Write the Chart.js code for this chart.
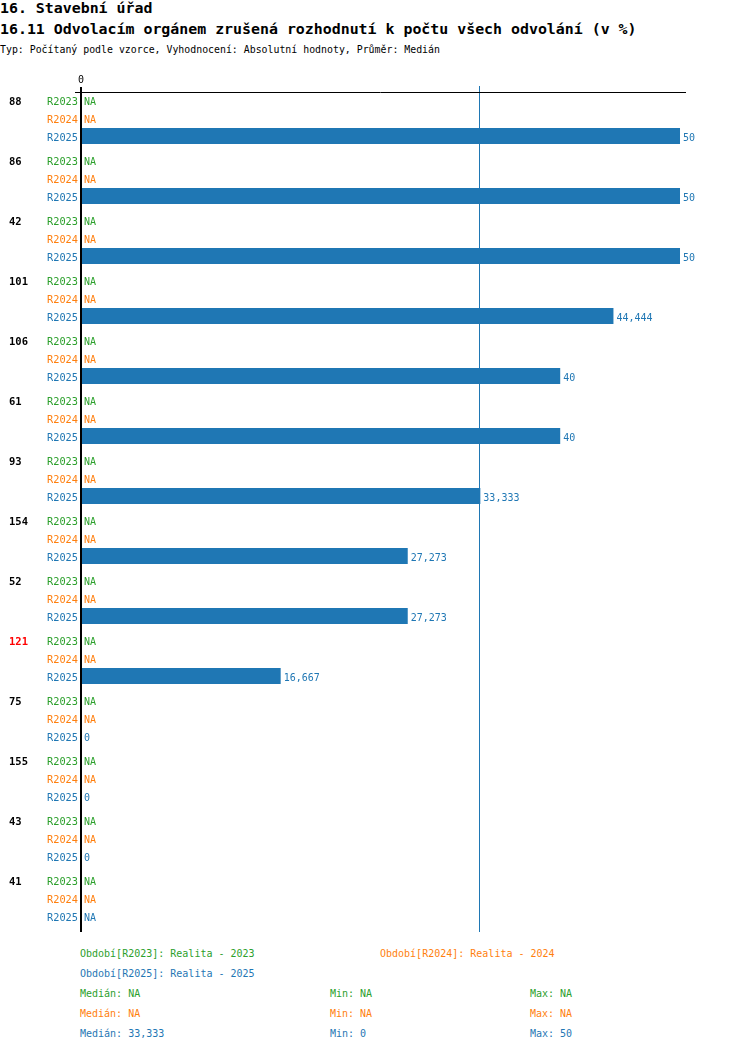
<!DOCTYPE html>
<html>
<head>
<meta charset="utf-8">
<script src="https://cdn.jsdelivr.net/npm/chart.js@4.4.1/dist/chart.umd.min.js"></script>
<style>
  html, body { margin: 0; padding: 0; background: #fff; }
  body { width: 750px; height: 1052px; position: relative; overflow: hidden; font-family: "DejaVu Sans Mono", monospace; }
  .t { position: absolute; white-space: pre; line-height: 1; }
  .h1 { font-size: 14.9px; font-weight: bold; left: 0; }
  .sub { font-size: 9.9px; left: 0; }
  .s { font-size: 10px; }
  #wrap { position: absolute; left: 0; top: 0; width: 750px; height: 945px; }
</style>
</head>
<body>
<div class="t h1" style="top:1px">16. Stavební úřad</div>
<div class="t h1" style="top:22px">16.11 Odvolacím orgánem zrušená rozhodnutí k počtu všech odvolání (v %)</div>
<div class="t sub" style="top:45px">Typ: Počítaný podle vzorce, Vyhodnocení: Absolutní hodnoty, Průměr: Medián</div>
<div id="wrap"><canvas id="c"></canvas></div>
<div id="legend"></div>
<script>
// ---- data ----
const groups = ['88','86','42','101','106','61','93','154','52','121','75','155','43','41'];
const highlightedGroups = ['121'];
const seriesNames = ['R2023','R2024','R2025'];
const seriesTitles = ['Realita - 2023','Realita - 2024','Realita - 2025'];
const r2023 = [null,null,null,null,null,null,null,null,null,null,null,null,null,null];
const r2024 = [null,null,null,null,null,null,null,null,null,null,null,null,null,null];
const r2025 = [50,50,50,44.444,40,40,33.333,27.273,27.273,16.667,0,0,0,null];
const xTicks = [0];

// ---- style ----
const colors = ['#2ca02c','#ff7f0e','#1f77b4'];
const FONT = '"DejaVu Sans Mono", monospace';

function fmt(v) {
  if (v === null || v === undefined) return 'NA';
  return String(Math.round(v * 1000) / 1000).replace('.', ',');
}
function stats(arr) {
  const v = arr.filter(x => x !== null).slice().sort((a, b) => a - b);
  if (!v.length) return { med: null, min: null, max: null };
  const n = v.length;
  const med = n % 2 ? v[(n - 1) / 2] : (v[n / 2 - 1] + v[n / 2]) / 2;
  return { med, min: v[0], max: v[n - 1] };
}
const allSeries = [r2023, r2024, r2025];
const allStats = allSeries.map(stats);

const overlay = {
  id: 'overlay',
  afterDatasetsDraw(chart) {
    const ctx = chart.ctx;
    const xs = chart.scales.x;
    const ca = chart.chartArea;
    const x0 = xs.getPixelForValue(0);
    ctx.save();
    // median lines
    allStats.forEach((st, i) => {
      if (st.med === null) return;
      const mx = Math.round(xs.getPixelForValue(st.med)) - 0.5;
      ctx.strokeStyle = colors[i];
      ctx.lineWidth = 1;
      ctx.beginPath();
      ctx.moveTo(mx, ca.top - 2);
      ctx.lineTo(mx, ca.bottom + 4);
      ctx.stroke();
    });
    // top line
    ctx.strokeStyle = '#000';
    ctx.lineWidth = 1;
    ctx.beginPath();
    ctx.moveTo(x0 - 6, ca.top + 4.5);
    ctx.lineTo(ca.right, ca.top + 4.5);
    ctx.stroke();
    // zero axis
    ctx.lineWidth = 2;
    ctx.beginPath();
    ctx.moveTo(x0, ca.top - 1);
    ctx.lineTo(x0, ca.bottom + 4);
    ctx.stroke();
    // tick labels
    ctx.font = '10px ' + FONT;
    ctx.fillStyle = '#000';
    ctx.textAlign = 'center';
    ctx.textBaseline = 'middle';
    xTicks.forEach(t => ctx.fillText(String(t), xs.getPixelForValue(t), ca.top - 8));
    // value labels and row labels
    chart.data.datasets.forEach((ds, di) => {
      const meta = chart.getDatasetMeta(di);
      meta.data.forEach((el, i) => {
        const v = ds.data[i];
        ctx.fillStyle = colors[di];
        ctx.font = '10px ' + FONT;
        ctx.textBaseline = 'middle';
        ctx.textAlign = 'left';
        const lx = (v === null ? x0 : el.x) + 3;
        ctx.fillText(fmt(v), lx, el.y + 2);
        ctx.textAlign = 'right';
        ctx.font = '10.3px ' + FONT;
        ctx.fillText(seriesNames[di], x0 - 3, el.y + 2);
        if (di === 0) {
          ctx.textAlign = 'left';
          ctx.font = 'bold 10.5px ' + FONT;
          ctx.fillStyle = highlightedGroups.includes(groups[i]) ? '#ff0000' : '#000';
          ctx.fillText(groups[i], 9, el.y + 2);
        }
      });
    });
    ctx.restore();
  }
};

new Chart(document.getElementById('c'), {
  type: 'bar',
  data: {
    labels: groups,
    datasets: allSeries.map((d, i) => ({
      label: seriesNames[i],
      data: d,
      backgroundColor: colors[i],
      borderWidth: 0,
      categoryPercentage: 0.9,
      barPercentage: 0.889
    }))
  },
  options: {
    indexAxis: 'y',
    responsive: true,
    maintainAspectRatio: false,
    animation: false,
    layout: { padding: { left: 81, right: 64, top: 88, bottom: 17 } },
    scales: {
      x: { display: false, min: 0, max: 50.5 },
      y: { display: false }
    },
    plugins: { legend: { display: false }, tooltip: { enabled: false } }
  },
  plugins: [overlay]
});

// ---- legend / stats ----
const lg = document.getElementById('legend');
function addText(txt, x, y, color) {
  const d = document.createElement('div');
  d.className = 't s';
  d.style.left = x + 'px';
  d.style.top = (y - 4) + 'px';
  d.style.color = color;
  d.textContent = txt;
  lg.appendChild(d);
}
const legendPos = [[80, 953], [380, 953], [80, 973]];
seriesNames.forEach((n, i) => addText('Období[' + n + ']: ' + seriesTitles[i], legendPos[i][0], legendPos[i][1], colors[i]));
allStats.forEach((st, i) => {
  const y = 993 + i * 20;
  addText('Medián: ' + fmt(st.med), 80, y, colors[i]);
  addText('Min: ' + fmt(st.min), 330, y, colors[i]);
  addText('Max: ' + fmt(st.max), 530, y, colors[i]);
});
</script>
</body>
</html>
